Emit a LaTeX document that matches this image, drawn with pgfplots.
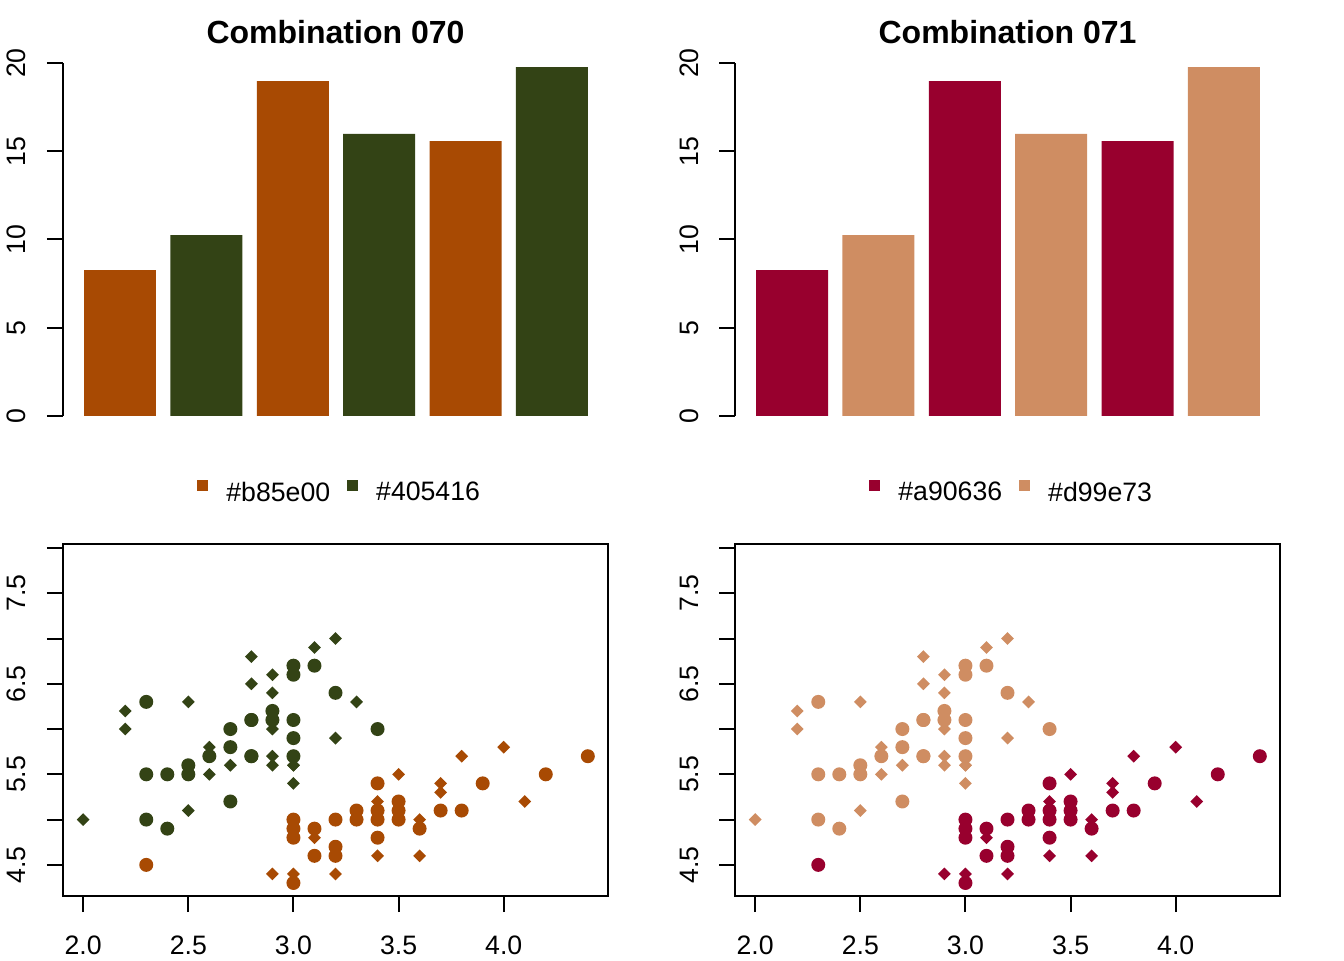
\documentclass[border=0pt]{standalone}
\usepackage{fontspec}
\setmainfont{Liberation Sans}
\usepackage{pgfplots}
\usepackage{pgfplotstable}
\pgfplotsset{compat=1.18}
\definecolor{cA}{RGB}{168,74,3}
\definecolor{cB}{RGB}{51,67,21}
\definecolor{cC}{RGB}{152,0,46}
\definecolor{cD}{RGB}{207,141,98}
\pgfdeclareplotmark{rdia}{%
  \pgfpathmoveto{\pgfqpoint{0pt}{\pgfplotmarksize}}%
  \pgfpathlineto{\pgfqpoint{\pgfplotmarksize}{0pt}}%
  \pgfpathlineto{\pgfqpoint{0pt}{-\pgfplotmarksize}}%
  \pgfpathlineto{\pgfqpoint{-\pgfplotmarksize}{0pt}}%
  \pgfpathclose\pgfusepathqfill}
\pgfdeclareplotmark{fdot}{%
  \pgfpathcircle{\pgfpointorigin}{\pgfplotmarksize}%
  \pgfusepathqfill}
\newcommand{\tickfont}{\fontsize{13.33pt}{16pt}\selectfont}
\pgfplotstableread{
x y c
3.5 5.1 d
3.0 4.9 o
3.2 4.7 d
3.1 4.6 o
3.6 5.0 d
3.9 5.4 o
3.4 4.6 d
3.4 5.0 o
2.9 4.4 d
3.1 4.9 o
3.7 5.4 d
3.4 4.8 o
3.0 4.8 d
3.0 4.3 o
4.0 5.8 d
4.4 5.7 o
3.9 5.4 d
3.5 5.1 o
3.8 5.7 d
3.8 5.1 o
3.4 5.4 d
3.7 5.1 o
3.6 4.6 d
3.3 5.1 o
3.4 4.8 d
3.0 5.0 o
3.4 5.0 d
3.5 5.2 o
3.4 5.2 d
3.2 4.7 o
3.1 4.8 d
3.4 5.4 o
4.1 5.2 d
4.2 5.5 o
3.1 4.9 d
3.2 5.0 o
3.5 5.5 d
3.6 4.9 o
3.0 4.4 d
3.4 5.1 o
3.5 5.0 d
2.3 4.5 o
3.2 4.4 d
3.5 5.0 o
3.8 5.1 d
3.0 4.8 o
3.8 5.1 d
3.2 4.6 o
3.7 5.3 d
3.3 5.0 o
}\setosa
\pgfplotstableread{
x y c
3.2 7.0 d
3.2 6.4 o
3.1 6.9 d
2.3 5.5 o
2.8 6.5 d
2.8 5.7 o
3.3 6.3 d
2.4 4.9 o
2.9 6.6 d
2.7 5.2 o
2.0 5.0 d
3.0 5.9 o
2.2 6.0 d
2.9 6.1 o
2.9 5.6 d
3.1 6.7 o
3.0 5.6 d
2.7 5.8 o
2.2 6.2 d
2.5 5.6 o
3.2 5.9 d
2.8 6.1 o
2.5 6.3 d
2.8 6.1 o
2.9 6.4 d
3.0 6.6 o
2.8 6.8 d
3.0 6.7 o
2.9 6.0 d
2.6 5.7 o
2.4 5.5 d
2.4 5.5 o
2.7 5.8 d
2.7 6.0 o
3.0 5.4 d
3.4 6.0 o
3.1 6.7 d
2.3 6.3 o
3.0 5.6 d
2.5 5.5 o
2.6 5.5 d
3.0 6.1 o
2.6 5.8 d
2.3 5.0 o
2.7 5.6 d
3.0 5.7 o
2.9 5.7 d
2.9 6.2 o
2.5 5.1 d
2.8 5.7 o
}\versicolor
\pgfplotstableread{
x h
0.7 8.27
3.1 18.98
5.5 15.58
}\barsodd
\pgfplotstableread{
x h
1.9 10.25
4.3 15.98
6.7 19.77
}\barseven
\pgfplotsset{
  common/.style={
    scale only axis, anchor=south west, clip=false,
    tick align=outside, major tick length=8pt,
    every tick/.style={black, line width=1pt},
    axis line style={black, line width=1pt, -},
    /pgf/number format/assume math mode=true,
    ticklabel style={font=\tickfont, inner sep=0pt},
    yticklabel style={rotate=90, anchor=base},
    yticklabel shift=10.5pt,
    xticklabel style={anchor=north},
    xticklabel shift=11.5pt,
  },
  barax/.style={common,
    width=272.5pt, height=176.5pt,
    xmin=-0.0917, xmax=7.478, ymin=0, ymax=20,
    axis x line=none, axis y line*=left,
    ytick={0,5,10,15,20},
    every axis title/.style={at={(0.5,1)}, anchor=base, yshift=9.5pt,
      font=\fontsize{16pt}{19pt}\selectfont\bfseries},
    legend style={at={(0.2459,-0.216)}, anchor=west, draw=none, fill=none,
      inner sep=0pt, nodes={inner sep=0pt}, font=\tickfont,
      /tikz/every odd column/.append style={column sep=9pt},
      /tikz/every even column/.append style={column sep=8.5pt}},
    legend columns=2,
    legend image code/.code={\fill[##1] (0pt,0.75pt) rectangle (5.5pt,6.25pt);},
  },
  scatax/.style={common,
    width=272.5pt, height=176pt,
    xmin=1.904, xmax=4.496, ymin=4.156, ymax=8.044,
    xtick={2,2.5,3,3.5,4}, xticklabels={2.0,2.5,3.0,3.5,4.0},
    ytick={4.5,5,5.5,6,6.5,7,7.5,8}, yticklabels={4.5,,5.5,,6.5,,7.5,},
    xtick pos=left, ytick pos=left,
  },
}
\begin{document}
\begin{tikzpicture}
\path[use as bounding box] (0,0) rectangle (672pt,480pt);
% ---- bar panel 070
\begin{axis}[barax, at={(31.5pt,272pt)}, title={Combination 070}]
\addplot[forget plot, ybar, bar shift=0pt, bar width=1, fill=cA, draw=none] table[x=x,y=h] {\barsodd};
\addplot[forget plot, ybar, bar shift=0pt, bar width=1, fill=cB, draw=none] table[x=x,y=h] {\barseven};
\addlegendimage{fill=cA, draw=none}
\addlegendentry{\#b85e00}
\addlegendimage{fill=cB, draw=none}
\addlegendentry{\#405416}
\end{axis}
% ---- bar panel 071
\begin{axis}[barax, at={(367.5pt,272pt)}, title={Combination 071}]
\addplot[forget plot, ybar, bar shift=0pt, bar width=1, fill=cC, draw=none] table[x=x,y=h] {\barsodd};
\addplot[forget plot, ybar, bar shift=0pt, bar width=1, fill=cD, draw=none] table[x=x,y=h] {\barseven};
\addlegendimage{fill=cC, draw=none}
\addlegendentry{\#a90636}
\addlegendimage{fill=cD, draw=none}
\addlegendentry{\#d99e73}
\end{axis}
% ---- scatter panel left
\begin{axis}[scatax, at={(31.5pt,32pt)}]
\addplot[only marks, scatter, scatter src=explicit symbolic,
  scatter/classes={o={mark=fdot, mark size=3.5pt, cA}, d={mark=rdia, mark size=3.2pt, cA}}]
  table[x=x, y=y, meta=c] {\setosa};
\addplot[only marks, scatter, scatter src=explicit symbolic,
  scatter/classes={o={mark=fdot, mark size=3.5pt, cB}, d={mark=rdia, mark size=3.2pt, cB}}]
  table[x=x, y=y, meta=c] {\versicolor};
\end{axis}
% ---- scatter panel right
\begin{axis}[scatax, at={(367.5pt,32pt)}]
\addplot[only marks, scatter, scatter src=explicit symbolic,
  scatter/classes={o={mark=fdot, mark size=3.5pt, cC}, d={mark=rdia, mark size=3.2pt, cC}}]
  table[x=x, y=y, meta=c] {\setosa};
\addplot[only marks, scatter, scatter src=explicit symbolic,
  scatter/classes={o={mark=fdot, mark size=3.5pt, cD}, d={mark=rdia, mark size=3.2pt, cD}}]
  table[x=x, y=y, meta=c] {\versicolor};
\end{axis}
\end{tikzpicture}
\end{document}
